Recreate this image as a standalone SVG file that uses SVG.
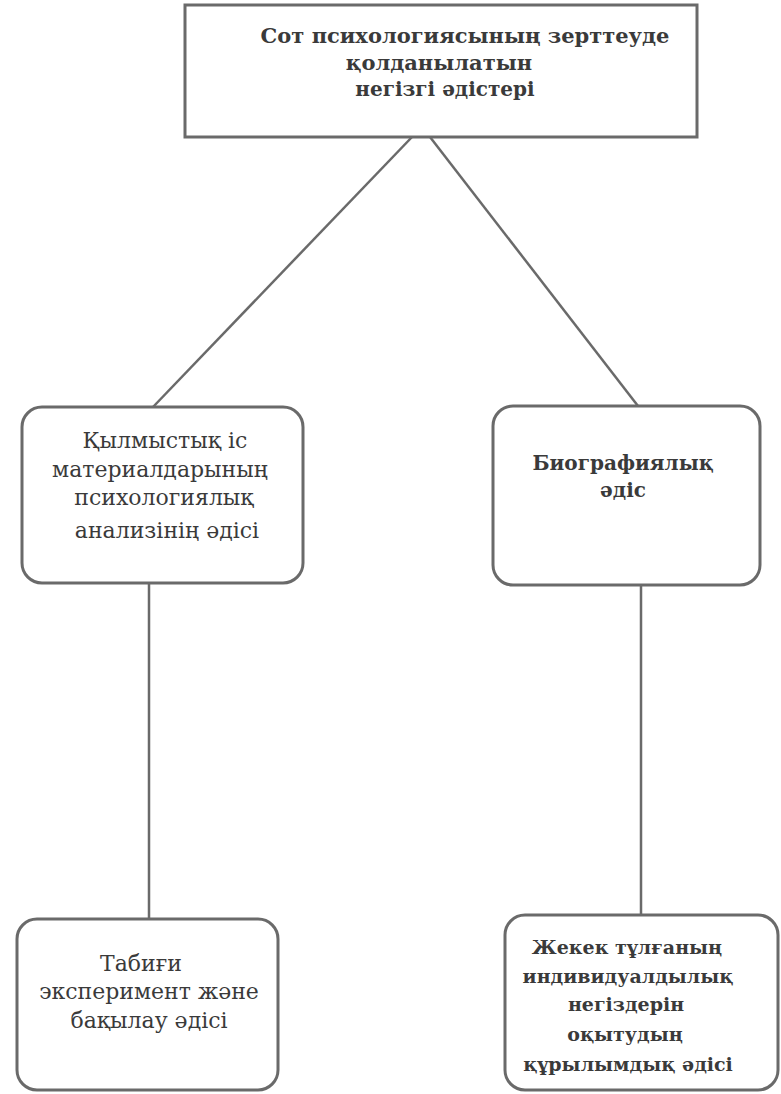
<svg xmlns="http://www.w3.org/2000/svg" width="781" height="1094" viewBox="0 0 781 1094">
<style>
.box{fill:#ffffff;stroke:#6a6a6a;stroke-width:3}
.conn{stroke:#6a6a6a;stroke-width:2.5;fill:none}
.t{font-family:"DejaVu Serif","Liberation Serif",serif;font-size:22px;fill:#3a3a3a;text-anchor:middle}
.b{font-weight:bold}
.s21{font-size:21px}
.s20{font-size:20px}
.s19{font-size:19px}
</style>
<rect width="781" height="1094" fill="#ffffff"/>
<g id="connectors">
<line class="conn" x1="412" y1="137" x2="153" y2="407"/>
<line class="conn" x1="430" y1="137" x2="638" y2="406"/>
<line class="conn" x1="149" y1="583" x2="149" y2="919"/>
<line class="conn" x1="641" y1="585" x2="641" y2="915"/>
</g>
<g id="node-top">
<rect class="box" x="185" y="5" width="512" height="132"/>
<text class="t b s21" x="465" y="43">Сот психологиясының зерттеуде</text>
<text class="t b s21" x="439" y="70">қолданылатын</text>
<text class="t b s20" x="445" y="96">негізгі әдістері</text>
</g>
<g id="node-left">
<rect class="box" x="22" y="407" width="281" height="176" rx="20" ry="20"/>
<text class="t" x="165" y="448">Қылмыстық іс</text>
<text class="t" x="160" y="477">материалдарының</text>
<text class="t" x="164" y="505">психологиялық</text>
<text class="t" x="167" y="538">анализінің әдісі</text>
</g>
<g id="node-right">
<rect class="box" x="493" y="406" width="267" height="179" rx="20" ry="20"/>
<text class="t b s20" x="623" y="470">Биографиялық</text>
<text class="t b s20" x="623" y="497">әдіс</text>
</g>
<g id="node-bottom-left">
<rect class="box" x="17" y="919" width="261" height="171" rx="20" ry="20"/>
<text class="t" x="141" y="971">Табиғи</text>
<text class="t" x="149" y="999">эксперимент және</text>
<text class="t" x="149" y="1028">бақылау әдісі</text>
</g>
<g id="node-bottom-right">
<rect class="box" x="505" y="915" width="273" height="175" rx="20" ry="20"/>
<text class="t b s19" x="627" y="954">Жекек тұлғаның</text>
<text class="t b s19" x="628" y="983">индивидуалдылық</text>
<text class="t b s19" x="626" y="1011">негіздерін</text>
<text class="t b s19" x="625" y="1041">оқытудың</text>
<text class="t b s19" x="628" y="1071">құрылымдық әдісі</text>
</g>
</svg>
